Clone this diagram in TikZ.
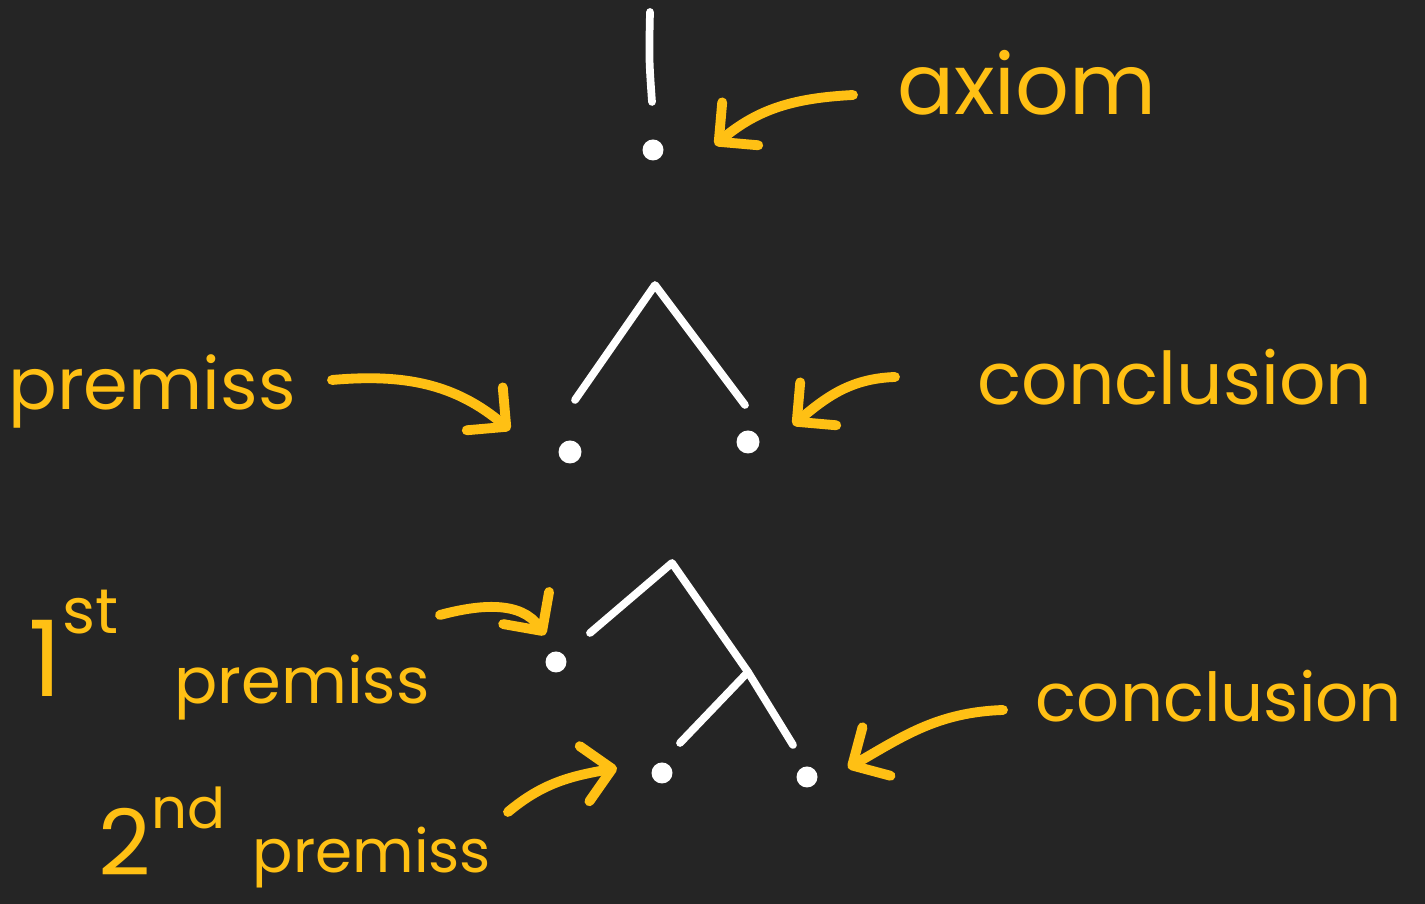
\documentclass[tikz,border=0pt]{standalone}
\usepackage{fontspec}
\setmainfont{Poppins}
\usetikzlibrary{arrows.meta}
\definecolor{board}{HTML}{252525}
\definecolor{marker}{HTML}{FFC014}

\begin{document}
\begin{tikzpicture}[x=1cm,y=1cm,
  chalk/.style={white,line width=2.2pt,line cap=round,line join=round},
  pen/.style={marker,line width=2.8pt,line cap=round,
    -{Straight Barb[length=2.8mm,width=5.6mm,round]}},
  leaf/.style={circle,fill=white,inner sep=0pt,minimum size=2.1mm},
  word/.style={marker,anchor=base,inner sep=0pt}]
  \fill[board] (0,0) rectangle (14.25,9.04);
  \useasboundingbox (0,0) rectangle (14.25,9.04);

  % axiom
  \coordinate (axtop) at (6.50,8.92);
  \coordinate (axbot) at (6.52,8.02);
  \draw[chalk] (axtop) .. controls (6.49,8.45) .. (axbot);
  \node[leaf] (axdot) at (6.53,7.54) {};
  \node[word,font=\fontsize{24}{26}\selectfont] (axiom) at (10.27,7.89) {axiom};
  \coordinate (axtail) at (8.53,8.09);
  \coordinate (axtip) at (7.15,7.59);
  \draw[pen] (axtail) to[out=183,in=40] (axtip);

  % one premiss
  \coordinate (mtop) at (6.55,6.19);
  \coordinate (mleft) at (5.75,5.04);
  \coordinate (mright) at (7.45,4.99);
  \draw[chalk] (mleft) -- (mtop) -- (mright);
  \node[leaf,minimum size=2.3mm] (mprem) at (5.70,4.52) {};
  \node[leaf,minimum size=2.3mm] (mconc) at (7.48,4.62) {};
  \node[word,font=\fontsize{20.5}{22}\selectfont] (premiss) at (1.52,4.94) {premiss};
  \node[word,font=\fontsize{20.7}{22}\selectfont] (conclusion) at (11.75,4.99) {conclusion};
  \coordinate (ptail) at (3.32,5.24);
  \coordinate (ptip) at (5.10,4.74);
  \draw[pen] (ptail) to[out=5,in=140] (ptip);
  \coordinate (ctail) at (8.95,5.27);
  \coordinate (ctip) at (7.93,4.79);
  \draw[pen] (ctail) to[out=182,in=40] (ctip);

  % two premisses
  \coordinate (btop) at (6.72,3.41);
  \coordinate (bleft) at (5.90,2.71);
  \coordinate (bjoin) at (7.48,2.32);
  \coordinate (bright) at (7.93,1.59);
  \coordinate (bsecond) at (6.80,1.61);
  \draw[chalk] (bleft) -- (btop) -- (bjoin) -- (bright);
  \draw[chalk] (bsecond) -- (bjoin);
  \node[leaf] (bprem1) at (5.56,2.42) {};
  \node[leaf] (bprem2) at (6.62,1.31) {};
  \node[leaf] (bconc) at (8.07,1.27) {};

  \node[word,anchor=base west,font=\fontsize{30}{32}\selectfont] (first) at (0.28,2.07)
    {1\raisebox{0.6em}{\fontsize{18}{18}\selectfont st}};
  \node[word,font=\fontsize{18.2}{20}\selectfont] (premiss1) at (3.02,2.00) {premiss};
  \node[word,anchor=base west,font=\fontsize{26}{28}\selectfont] (second) at (0.98,0.28)
    {2\raisebox{0.52em}{\fontsize{16}{16}\selectfont nd}};
  \node[word,font=\fontsize{17}{19}\selectfont] (premiss2) at (3.72,0.31) {premiss};
  \node[word,font=\fontsize{19.2}{21}\selectfont] (conclusion2) at (12.19,1.82) {conclusion};

  \coordinate (p1tail) at (4.40,2.89);
  \coordinate (p1tip) at (5.45,2.69);
  \draw[pen] (p1tail) to[out=15,in=125] (p1tip);
  \coordinate (p2tail) at (5.08,0.92);
  \coordinate (p2tip) at (6.17,1.36);
  \draw[pen] (p2tail) to[out=40,in=190] (p2tip);
  \coordinate (c2tail) at (10.03,1.94);
  \coordinate (c2tip) at (8.48,1.36);
  \draw[pen] (c2tail) to[out=182,in=30] (c2tip);
\end{tikzpicture}
\end{document}
